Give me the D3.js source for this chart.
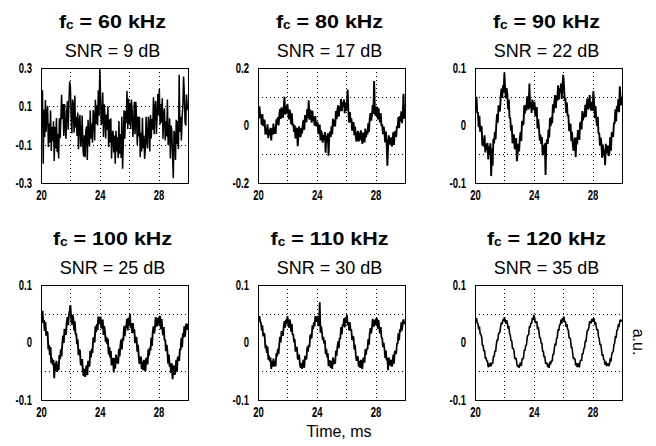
<!DOCTYPE html>
<html><head><meta charset="utf-8">
<script src="https://cdn.jsdelivr.net/npm/d3@7/dist/d3.min.js"></script>
<style>body{margin:0;background:#fff}svg{display:block}</style>
</head><body>
<svg id="c" width="656" height="446"></svg>
<script>
// ---- data ----
const freqs = ["60", "80", "90", "100", "110", "120"];
const snrs = ["9", "17", "22", "25", "30", "35"];
const yMax = [0.3, 0.2, 0.1, 0.1, 0.1, 0.1];
const yTickVals = [[0.3, 0.1, -0.1, -0.3], [0.2, 0, -0.2], [0.1, 0, -0.1], [0.1, 0, -0.1], [0.1, 0, -0.1], [0.1, 0, -0.1]];
const yTickLabels = [["0.3", "0.1", "-0.1", "-0.3"], ["0.2", "0", "-0.2"], ["0.1", "0", "-0.1"], ["0.1", "0", "-0.1"], ["0.1", "0", "-0.1"], ["0.1", "0", "-0.1"]];
const yGridVals = [[0.1, -0.1], [0.1, -0.1], [0.05, -0.05], [0.05, -0.05], [0.05, -0.05], [0.05, -0.05]];
const xTickVals = [20, 24, 28];
const xTickLabels = ["20", "24", "28"];
const xGridVals = [22, 24, 26, 28];
const tStart = 20, tStep = 0.05;   // sample times, ms
const unit = 0.001;                // signal values below are in thousandths (a.u.)

const sig60 = [
 142,-16,184,-200,82,-60,133,-33,67,102,-112,10,-90,78,-133,-8,-82,22,-185,-6,
 -120,39,-140,-45,-172,38,-66,33,160,33,112,-55,112,-10,-69,75,128,-22,117,230,
 200,51,-40,135,105,-38,156,-10,45,-55,68,-124,22,55,-111,-75,52,-112,-162,-51,
 -165,-28,-4,-180,30,-75,-111,78,-68,10,-90,80,45,-78,134,8,105,0,184,51,
 295,164,4,22,172,-60,111,57,-68,57,-22,100,-112,33,-88,38,-172,-45,-27,-141,
 -52,-200,-27,-135,-60,-170,24,-147,-45,-170,45,-225,-90,80,-69,75,15,180,-18,141,
 8,118,-18,135,82,-60,-2,124,-45,124,45,-102,45,-57,46,-165,-38,-135,40,-118,
 -52,-175,-117,45,-82,-120,46,10,-135,55,-68,34,-22,147,-46,98,128,-45,50,164,
 52,190,4,112,15,142,-69,57,90,-78,22,-57,135,-102,-66,38,-172,0,-27,-164,
 -275,-28,-50,-180,30,-98,24,-124,265,-34,45,-78,45,102,255,165,15,0,162,96,
 80];
const sig80 = [
 60,24,67,28,38,2,40,-2,16,20,-31,-7,-32,4,-44,-16,-33,-8,-52,-10,
 -32,7,-29,-4,-29,22,3,29,0,36,57,23,63,38,27,60,100,38,68,42,
 75,46,21,55,43,5,42,-1,6,-22,1,-45,-15,-8,-72,-35,-3,-35,-40,-9,
 -28,8,19,-15,36,17,12,57,26,88,20,55,43,10,51,16,30,-1,33,-2,
 3,13,-27,-27,3,-52,-17,-31,-60,-33,-51,-23,-95,-35,-59,-27,-105,-33,-22,-40,
 -3,-30,23,-4,19,-3,50,22,54,70,31,66,50,93,50,81,66,90,43,80,
 51,81,125,48,10,47,13,25,-18,4,12,-34,-4,-38,-56,-28,-19,-55,-25,-51,
 -17,-43,-64,-25,-30,-59,-11,-41,-19,-31,8,-22,23,43,17,35,71,40,155,58,
 33,62,65,21,61,29,11,42,-2,4,-30,-4,-22,-59,-21,-57,-140,-71,-34,-66,
 -57,-41,-73,-64,-24,-68,-21,-23,-40,-2,-9,29,-9,33,14,49,8,41,110,24,
 40];
const sig90 = [
 53,28,50,22,23,-3,17,-11,-2,-2,-35,-22,-37,-17,-47,-32,-43,-30,-59,-36,
 -51,-31,-88,-40,-70,-23,-31,-11,-24,2,20,5,35,26,25,51,64,48,70,57,
 92,63,47,65,54,28,45,14,13,-9,1,-31,-17,-16,-41,-38,-22,-62,-49,-32,
 -45,-22,-11,-27,8,1,3,35,21,36,26,51,47,28,73,31,40,22,45,27,
 33,41,18,17,32,-5,11,-3,-26,-16,-32,-20,-52,-34,-50,-31,-86,-33,-24,-32,
 -7,-21,13,-1,15,4,37,22,42,53,30,52,43,70,45,65,57,73,46,70,
 88,72,43,48,22,40,16,19,-10,1,3,-27,-11,-33,-44,-27,-21,-55,-21,-33,
 -8,-18,-25,4,6,-7,25,9,22,14,36,15,39,47,28,35,53,32,26,41,
 26,60,42,13,34,12,-1,15,-14,-13,-35,-21,-33,-56,-33,-53,-42,-69,-32,-48,
 -45,-35,-53,-46,-20,-44,-13,-12,-20,5,3,28,7,34,24,46,23,68,49,35,
 50];
const sig100 = [
 53,34,55,35,39,20,36,12,19,17,-12,-4,-22,-8,-36,-27,-39,-30,-62,-36,
 -50,-32,-51,-37,-48,-22,-29,-12,-24,-2,12,-1,24,15,14,35,44,30,48,55,
 65,41,31,48,41,21,37,14,15,-3,5,-22,-12,-14,-38,-39,-29,-50,-58,-46,
 -60,-45,-40,-57,-32,-41,-41,-15,-26,-11,-18,7,9,0,28,18,32,22,45,32,
 38,45,25,26,40,13,29,19,1,10,-3,7,-21,-8,-26,-15,-40,-28,-28,-52,
 -27,-45,-21,-36,-25,-37,-11,-24,-6,5,-12,8,3,28,11,30,25,41,21,43,
 30,50,25,34,16,34,17,23,-1,8,9,-16,-4,-25,-37,-26,-25,-46,-33,-48,
 -30,-43,-50,-28,-27,-38,-12,-23,-9,-14,8,-6,17,28,16,25,44,31,28,43,
 30,44,46,23,41,24,13,27,4,5,-15,-4,-16,-37,-21,-42,-36,-53,-36,-64,
 -47,-40,-56,-51,-30,-50,-26,-25,-32,-11,-13,8,-8,16,9,28,10,29,33,22,
 32];
const sig110 = [
 50,41,46,36,35,21,30,11,16,14,-10,-4,-18,-7,-30,-23,-33,-26,-46,-32,
 -42,-28,-42,-32,-41,-19,-24,-11,-20,-2,10,0,20,13,12,29,37,26,40,32,
 46,36,26,40,35,19,32,13,14,0,6,-16,-8,-9,-28,-29,-21,-38,-44,-36,
 -46,-34,-30,-44,-23,-29,-28,-7,-16,-4,-8,12,14,7,30,23,35,28,46,36,
 40,46,30,30,70,17,28,19,4,10,-2,4,-20,-11,-26,-19,-41,-32,-32,-44,
 -32,-46,-26,-38,-29,-37,-14,-23,-8,2,-10,8,6,27,14,31,29,42,26,44,
 34,48,30,36,21,35,20,23,4,10,10,-12,-4,-21,-32,-25,-25,-42,-32,-44,
 -30,-40,-46,-28,-27,-35,-12,-21,-10,-12,6,-4,16,25,16,25,41,30,28,40,
 30,42,42,24,39,25,16,27,8,8,-8,0,-10,-27,-14,-31,-27,-48,-26,-40,
 -36,-30,-42,-38,-21,-37,-16,-15,-20,-2,-2,16,4,23,18,35,21,36,40,32,
 36];
const sig120 = [
 43,36,43,34,33,23,28,15,14,10,-5,-5,-15,-13,-28,-26,-33,-32,-43,-37,
 -42,-35,-41,-35,-37,-24,-25,-15,-16,-4,5,3,16,16,19,29,35,32,40,37,
 44,39,33,39,34,24,29,16,13,3,3,-11,-10,-14,-27,-29,-27,-38,-42,-39,
 -44,-38,-35,-41,-28,-29,-27,-13,-14,-5,-4,9,13,13,28,26,34,33,43,39,
 48,44,35,34,37,23,27,19,8,8,-1,-1,-16,-15,-26,-24,-37,-35,-36,-43,
 -37,-44,-33,-38,-31,-33,-20,-21,-10,-2,-5,7,9,23,20,30,31,40,33,43,
 38,45,35,37,27,32,23,21,8,8,5,-9,-8,-20,-29,-27,-29,-40,-36,-43,
 -36,-41,-43,-33,-30,-32,-19,-20,-11,-9,3,1,14,22,21,27,37,34,34,41,
 36,42,41,31,36,27,21,23,10,7,-4,-3,-11,-23,-20,-30,-30,-39,-33,-41,
 -39,-36,-41,-38,-27,-33,-21,-17,-16,-4,-1,11,8,21,22,32,27,37,40,37,
 39];
const signals = [sig60, sig80, sig90, sig100, sig110, sig120];

// ---- layout / style ----
const colLeft = [41, 258, 475];
const rowTop = [68, 285];
const W = 147, H = 115;
const lineWidths = [1.5, 1.9, 1.9, 1.9, 1.8, 1.6];
const FONT = "'Liberation Sans', Arial, Helvetica, sans-serif";

const svg = d3.select("#c");
svg.append("rect").attr("width", 656).attr("height", 446).attr("fill", "#fff");

function squeeze(sel, f) {
  sel.each(function () {
    const L = this.getComputedTextLength();
    d3.select(this).attr("textLength", L * f).attr("lengthAdjust", "spacingAndGlyphs");
  });
}

signals.forEach((sig, i) => {
  const left = colLeft[i % 3], top = rowTop[Math.floor(i / 3)];
  const g = svg.append("g").attr("transform", `translate(${left},${top})`);
  const x = d3.scaleLinear().domain([20, 30]).range([0, W]);
  const y = d3.scaleLinear().domain([-yMax[i], yMax[i]]).range([H, 0]);

  const cid = "clip" + i;
  g.append("clipPath").attr("id", cid).append("rect").attr("width", W).attr("height", H);

  // grid
  g.selectAll(".vg").data(xGridVals).join("line")
    .attr("x1", d => Math.round(x(d)) + 0.5).attr("x2", d => Math.round(x(d)) + 0.5)
    .attr("y1", 0).attr("y2", H)
    .attr("stroke", "#000").attr("stroke-width", 1).attr("stroke-dasharray", "1,3");
  g.selectAll(".hg").data(yGridVals[i]).join("line")
    .attr("y1", d => Math.round(y(d)) + 0.5).attr("y2", d => Math.round(y(d)) + 0.5)
    .attr("x1", 0).attr("x2", W)
    .attr("stroke", "#000").attr("stroke-width", 1).attr("stroke-dasharray", "1,3");

  // signal
  const line = d3.line()
    .x((d, j) => x(tStart + j * tStep))
    .y(d => y(d * unit));
  g.append("path").datum(sig)
    .attr("clip-path", `url(#${cid})`)
    .attr("d", line).attr("fill", "none").attr("stroke", "#000")
    .attr("stroke-width", lineWidths[i]).attr("stroke-linejoin", "bevel");

  // frame
  g.append("rect").attr("x", 0.5).attr("y", 0.5).attr("width", W).attr("height", H)
    .attr("fill", "none").attr("stroke", "#000").attr("stroke-width", 1);

  // axes
  const ya = g.append("g").call(
    d3.axisLeft(y).tickValues(yTickVals[i]).tickSize(0).tickPadding(9)
      .tickFormat((d, k) => yTickLabels[i][k]));
  const xa = g.append("g").attr("transform", `translate(0,${H})`).call(
    d3.axisBottom(x).tickValues(xTickVals).tickSize(0).tickPadding(7)
      .tickFormat((d, k) => xTickLabels[k]));
  [ya, xa].forEach(a => {
    a.select(".domain").remove();
    a.selectAll("text").attr("font-family", FONT).attr("font-size", 14)
      .attr("font-weight", "bold").attr("fill", "#000");
    squeeze(a.selectAll("text"), 0.68);
  });

  // titles
  const cx = left + W / 2 - 2;
  const t = svg.append("text").attr("x", cx).attr("y", top - 40)
    .attr("text-anchor", "middle").attr("font-family", FONT)
    .attr("font-size", 19).attr("font-weight", "bold").attr("fill", "#000");
  t.append("tspan").text("f");
  t.append("tspan").attr("font-size", 12).attr("dy", 1).text("c");
  t.append("tspan").attr("dy", -1).text(` = ${freqs[i]} kHz`);
  squeeze(t, 1.13);
  svg.append("text").attr("x", cx).attr("y", top - 11)
    .attr("text-anchor", "middle").attr("font-family", FONT)
    .attr("font-size", 18).attr("fill", "#000")
    .text(`SNR = ${snrs[i]} dB`);
});

svg.append("text").attr("x", 339).attr("y", 437).attr("text-anchor", "middle")
  .attr("font-family", FONT).attr("font-size", 16).attr("fill", "#000").text("Time, ms");
svg.append("text").attr("transform", "translate(633,342) rotate(90)").attr("text-anchor", "middle")
  .attr("font-family", FONT).attr("font-size", 16).attr("fill", "#000").text("a.u.");
</script>
</body></html>
